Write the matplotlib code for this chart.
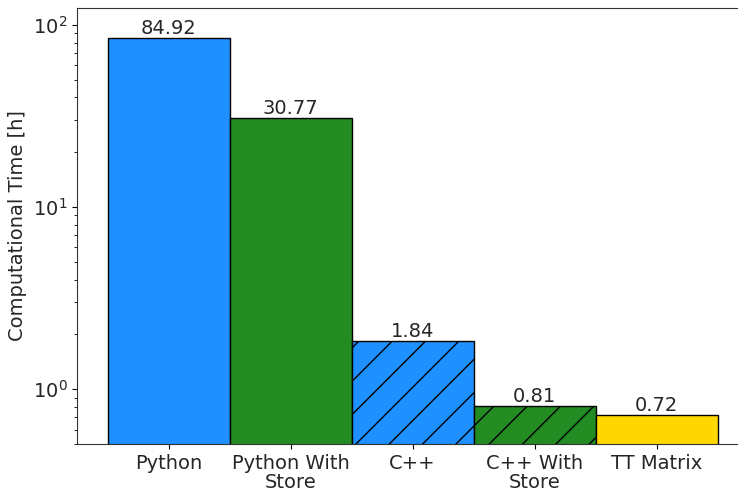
import matplotlib
matplotlib.use('Agg')
import matplotlib.pyplot as plt

# data
labels = ['Python', 'Python With\nStore', 'C++', 'C++ With\nStore', 'TT Matrix']
times = [84.92, 30.77, 1.84, 0.81, 0.72]
colors = ['dodgerblue', 'forestgreen', 'dodgerblue', 'forestgreen', 'gold']
hatches = ['', '', '/', '/', '']

plt.rcParams['font.family'] = 'DejaVu Sans'
text_color = '#262626'

fig = plt.figure(figsize=(7.38, 4.88), dpi=100)
# axes runs past the right edge, like the cropped original
ax = fig.add_axes([77 / 738, 44 / 488, 671 / 738, 436 / 488])

x = list(range(len(labels)))
bars = ax.bar(x, times, width=1.0, color=colors, edgecolor='black', linewidth=1)
for b, h in zip(bars, hatches):
    b.set_hatch(h)

# value labels on top of each bar
for b, v in zip(bars, times):
    ax.text(b.get_x() + b.get_width() / 2, v, '%.2f' % v,
            ha='center', va='bottom', fontsize=14, color=text_color)

ax.set_yscale('log')
ax.set_ylim(0.5, 124)
ax.set_xlim(-0.75, 4.75)
ax.set_xticks(x)
ax.set_xticklabels(labels, fontsize=14, color=text_color, linespacing=1.0)
ax.tick_params(axis='y', labelsize=14, labelcolor=text_color)
ax.set_ylabel('Computational Time [h]', fontsize=14, color=text_color)

for s in ax.spines.values():
    s.set_color('#333333')
ax.spines['right'].set_visible(False)

fig.savefig('out.png', dpi=100)
